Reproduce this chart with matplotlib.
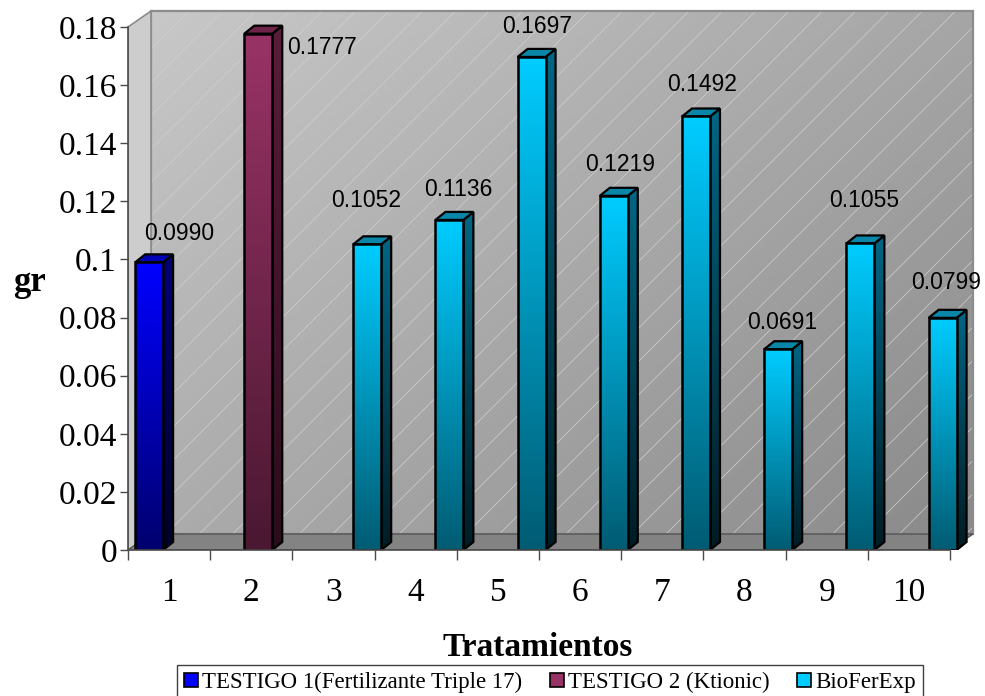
import numpy as np
import matplotlib.pyplot as plt
from matplotlib.colors import LinearSegmentedColormap
from matplotlib.patches import Polygon, Patch

categories = ['1', '2', '3', '4', '5', '6', '7', '8', '9', '10']
values = [0.0990, 0.1777, 0.1052, 0.1136, 0.1697, 0.1219, 0.1492, 0.0691, 0.1055, 0.0799]
series_of_bar = [0, 1, 2, 2, 2, 2, 2, 2, 2, 2]
series_names = ['TESTIGO 1(Fertilizante Triple 17)', 'TESTIGO 2 (Ktionic)', 'BioFerExp']
y_ticks = [0, 0.02, 0.04, 0.06, 0.08, 0.10, 0.12, 0.14, 0.16, 0.18]
y_tick_labels = ['0', '0.02', '0.04', '0.06', '0.08', '0.1', '0.12', '0.14', '0.16', '0.18']

# front top, front bottom, side top, side bottom, top face
series_colors = [
    ('#0000ff', '#00006e', '#00007a', '#000028', '#0000b4'),
    ('#993366', '#4a1830', '#5a1d3a', '#2a0c1a', '#6e2448'),
    ('#00ccff', '#005c73', '#006684', '#001c24', '#0a87a8'),
]
# where each value label sits relative to its bar top (pixels)
label_offsets = [(30, 29), (64, -14), (-1, 44), (9, 30), (6, 30),
                 (6, 31), (6, 32), (4, 27), (4, 43), (4, 35)]

SERIF = 'Liberation Serif'
SANS = 'Liberation Sans'

fig = plt.figure(figsize=(9.85, 6.96), dpi=100)
fig.patch.set_facecolor('white')

# data units per pixel
px_x = 10 / 822
px_y = 0.18 / 523
ax = fig.add_axes([128 / 985, 146 / 696, 852 / 985, 545 / 696])
ax.set_xlim(0.5, 0.5 + 852 * px_x)
ax.set_ylim(0, 545 * px_y)
ax.patch.set_visible(False)

wall_dx, wall_dy = 23 * px_x, 16 * px_y
bar_dx, bar_dy = 10 * px_x, 8 * px_y
series_shift = [-0.243, 0.085, 0.41]
bar_w = 0.34
top = y_ticks[-1]


def gradient_fill(patch, c_top, c_bottom, extent, z):
    cmap = LinearSegmentedColormap.from_list('g', [c_bottom, c_top])
    im = ax.imshow(np.linspace(0, 1, 128).reshape(-1, 1), cmap=cmap, extent=extent,
                   origin='lower', aspect='auto', zorder=z, interpolation='bilinear')
    im.set_clip_path(patch)


# back wall with diagonal shading and hatch
x_l, x_r = 0.5 + wall_dx, 10.5 + wall_dx
xx, yy = np.meshgrid(np.linspace(0, 1, 200), np.linspace(0, 1, 200))
shade = 1 - 0.55 * xx - 0.45 * (1 - yy)
wall_cmap = LinearSegmentedColormap.from_list('wall', ['#8a8a8a', '#c8c8c8'])
ax.imshow(shade, cmap=wall_cmap, extent=(x_l, x_r, wall_dy, top + wall_dy),
          origin='lower', aspect='auto', zorder=0.5, interpolation='bilinear')
wall_pts = [(x_l, wall_dy), (x_r, wall_dy), (x_r, top + wall_dy), (x_l, top + wall_dy)]
plt.rcParams['hatch.linewidth'] = 0.5
ax.add_patch(Polygon(wall_pts, closed=True, facecolor='none', edgecolor='#d0d0d0',
                     lw=0, hatch='/', zorder=0.6))
ax.add_patch(Polygon(wall_pts, closed=True, facecolor='none', edgecolor='#8c8c8c',
                     lw=1.6, zorder=0.7))

# side wall
ax.add_patch(Polygon([(0.5, 0), (x_l, wall_dy), (x_l, top + wall_dy), (0.5, top)],
                     closed=True, facecolor='#cdcdcd', edgecolor='#8c8c8c', lw=1.2, zorder=0.8))
# floor
ax.add_patch(Polygon([(0.5, 0), (10.5, 0), (x_r, wall_dy), (x_l, wall_dy)],
                     closed=True, facecolor='#838383', edgecolor='#555555', lw=1, zorder=0.9))

# bars
for i, v in enumerate(values):
    s = series_of_bar[i]
    ft, fb, st, sb, tc = series_colors[s]
    x0 = (i + 1) + series_shift[s] - bar_w / 2
    x1 = x0 + bar_w

    side = Polygon([(x1, 0), (x1 + bar_dx, bar_dy), (x1 + bar_dx, v + bar_dy), (x1, v)],
                   closed=True, facecolor='none', edgecolor='black', lw=1.6, zorder=4)
    ax.add_patch(side)
    gradient_fill(side, st, sb, (x1, x1 + bar_dx, 0, v + bar_dy), 3.9)

    ax.add_patch(Polygon([(x0, v), (x1, v), (x1 + bar_dx, v + bar_dy), (x0 + bar_dx, v + bar_dy)],
                         closed=True, facecolor=tc, edgecolor='black', lw=1.6, zorder=4))

    front = ax.bar(x0, v, width=bar_w, align='edge', facecolor='none',
                   edgecolor='black', lw=1.8, zorder=4.2)[0]
    gradient_fill(front, ft, fb, (x0, x1, 0, v), 4.1)

    ax.annotate(f'{v:.4f}', xy=(x0 + bar_w / 2, v), xytext=label_offsets[i],
                textcoords='offset pixels', ha='center', va='center',
                fontsize=16.5, family=SANS, color='black', zorder=6)

# axes, ticks
for side_name in ['top', 'right']:
    ax.spines[side_name].set_visible(False)
ax.spines['left'].set_bounds(0, top)
ax.spines['bottom'].set_bounds(0.5, 10.5)
for side_name in ['left', 'bottom']:
    ax.spines[side_name].set_color('#4a4a4a')
    ax.spines[side_name].set_linewidth(1.2)
    ax.spines[side_name].set_zorder(5)

ax.set_yticks(y_ticks)
ax.set_yticklabels(y_tick_labels, fontsize=24, family=SERIF)
ax.tick_params(axis='y', length=6, width=1, color='#4a4a4a', pad=2)

ax.set_xticks(range(1, len(categories) + 1))
ax.set_xticklabels(categories, fontsize=24, family=SERIF)
ax.set_xticks(np.arange(0.5, len(categories) + 1, 1), minor=True)
ax.tick_params(axis='x', which='major', length=0, pad=20)
ax.tick_params(axis='x', which='minor', length=7, width=1, color='#4a4a4a')

fig.text(30 / 985, 1 - 283 / 696, 'gr', fontsize=25, family=SERIF, fontweight='bold',
         ha='center', va='center')
fig.text(538 / 985, 1 - 648 / 696, 'Tratamientos', fontsize=24, family=SERIF,
         fontweight='bold', ha='center', va='center')

handles = [Patch(facecolor=c[0], edgecolor='black', lw=1.2) for c in series_colors]
leg = fig.legend(handles, series_names, loc='upper center', ncol=3,
                 bbox_to_anchor=(550 / 985, 1 - 665 / 696), bbox_transform=fig.transFigure,
                 prop={'family': SERIF, 'size': 16.5}, frameon=True, fancybox=False,
                 edgecolor='#404040', framealpha=1, borderpad=0.3, borderaxespad=0,
                 handlelength=0.6, handleheight=0.6, handletextpad=0.2, columnspacing=1.2)
leg.get_frame().set_linewidth(1.0)

fig.savefig('out.png', dpi=100)
